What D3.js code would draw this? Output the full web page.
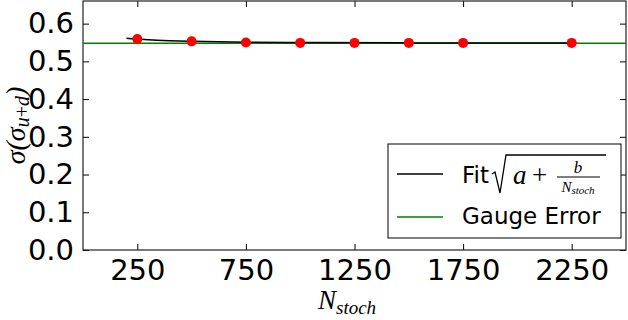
<!DOCTYPE html>
<html>
<head>
<meta charset="utf-8">
<script src="https://cdn.jsdelivr.net/npm/d3@7"></script>
<style>
  body { margin: 0; background: #fff; }
  svg { display: block; }
</style>
</head>
<body>
<div id="chart"></div>
<script>
// Data
const nStoch = [250, 500, 750, 1000, 1250, 1500, 1750, 2250];
const sigmaValues = [0.559, 0.553, 0.550, 0.549, 0.549, 0.549, 0.549, 0.549];
const fitN = [200, 250, 300, 400, 500, 750, 1000, 1500, 2250];
const fitValues = [0.561, 0.559, 0.557, 0.5545, 0.553, 0.5508, 0.5499, 0.549, 0.5485];
const gaugeError = 0.548;
const xTicks = [250, 750, 1250, 1750, 2250];
const yTicks = [0.0, 0.1, 0.2, 0.3, 0.4, 0.5, 0.6];

const width = 628, height = 320;
const margin = { top: 1, right: 2, bottom: 70, left: 83 };

const svg = d3.select("#chart").append("svg")
  .attr("width", width)
  .attr("height", height);

const x = d3.scaleLinear().domain([0, 2500]).range([margin.left, width - margin.right]);
const y = d3.scaleLinear().domain([0, 0.66]).range([height - margin.bottom, margin.top]);

const tickFont = "DejaVu Sans, sans-serif";
const mathFont = "Liberation Serif, DejaVu Serif, serif";

// Axes with inward ticks on all four sides
const axisBottom = svg.append("g")
  .attr("transform", `translate(0,${y(0)})`)
  .call(d3.axisBottom(x).tickValues(xTicks).tickSizeInner(-6).tickSizeOuter(0).tickPadding(9).tickFormat(d3.format("d")));
const axisTop = svg.append("g")
  .attr("transform", `translate(0,${y(0.66)})`)
  .call(d3.axisTop(x).tickValues(xTicks).tickSizeInner(-6).tickSizeOuter(0).tickFormat(""));
const axisLeft = svg.append("g")
  .attr("transform", `translate(${x(0)},0)`)
  .call(d3.axisLeft(y).tickValues(yTicks).tickSizeInner(-6).tickSizeOuter(0).tickPadding(9).tickFormat(d3.format(".1f")));
const axisRight = svg.append("g")
  .attr("transform", `translate(${x(2500)},0)`)
  .call(d3.axisRight(y).tickValues(yTicks).tickSizeInner(-6).tickSizeOuter(0).tickFormat(""));

[axisBottom, axisTop, axisLeft, axisRight].forEach(g => {
  g.select(".domain").remove();
  g.selectAll(".tick line").attr("stroke", "#000").attr("stroke-width", 1);
  g.selectAll(".tick text")
    .attr("fill", "#000")
    .style("font-family", tickFont)
    .style("font-size", "29px");
});

// Frame
svg.append("rect")
  .attr("x", x(0)).attr("y", y(0.66))
  .attr("width", x(2500) - x(0)).attr("height", y(0) - y(0.66))
  .attr("fill", "none").attr("stroke", "#222").attr("stroke-width", 1.2);

// Gauge error line
svg.append("line")
  .attr("x1", x(0)).attr("x2", x(2500))
  .attr("y1", y(gaugeError)).attr("y2", y(gaugeError))
  .attr("stroke", "#008000").attr("stroke-width", 1.5);

// Fit curve
const line = d3.line().x((d, i) => x(fitN[i])).y(d => y(d)).curve(d3.curveMonotoneX);
svg.append("path")
  .datum(fitValues)
  .attr("d", line)
  .attr("fill", "none")
  .attr("stroke", "#000")
  .attr("stroke-width", 1.5);

// Data points
svg.selectAll(".dot")
  .data(nStoch)
  .enter()
  .append("circle")
  .attr("class", "dot")
  .attr("cx", d => x(d))
  .attr("cy", (d, i) => y(sigmaValues[i]))
  .attr("r", 5)
  .attr("fill", "#ff0000");

// Axis labels
svg.append("text")
  .attr("x", 318)
  .attr("y", 309)
  .style("font-family", mathFont)
  .style("font-style", "italic")
  .style("font-size", "27px")
  .html('N<tspan font-size="19" dy="5">stoch</tspan>');

svg.append("text")
  .attr("transform", `translate(25,${(y(0) + y(0.66)) / 2}) rotate(-90)`)
  .attr("text-anchor", "middle")
  .style("font-family", mathFont)
  .style("font-style", "italic")
  .style("font-size", "28px")
  .html('σ(σ<tspan font-size="20" dy="4">u</tspan><tspan font-size="20" font-style="normal">+</tspan><tspan font-size="20">d</tspan><tspan dy="-4">)</tspan>');

// Legend
const legend = svg.append("g").attr("transform", "translate(388,144)");
legend.append("rect")
  .attr("width", 233).attr("height", 94)
  .attr("fill", "#fff").attr("stroke", "#000").attr("stroke-width", 1);

legend.append("line")
  .attr("x1", 9).attr("x2", 55).attr("y1", 30).attr("y2", 30)
  .attr("stroke", "#000").attr("stroke-width", 1.5);
legend.append("line")
  .attr("x1", 9).attr("x2", 55).attr("y1", 73).attr("y2", 73)
  .attr("stroke", "#008000").attr("stroke-width", 1.5);

legend.append("text")
  .attr("x", 74).attr("y", 39)
  .style("font-family", tickFont).style("font-size", "23px")
  .text("Fit");
// sqrt(a + b / N_stoch)
legend.append("path")
  .attr("d", "M104,30 L107,28 L112,49 L118,11 L218,11")
  .attr("fill", "none").attr("stroke", "#000").attr("stroke-width", 1.3);
legend.append("text")
  .attr("x", 125).attr("y", 40)
  .style("font-family", mathFont).style("font-style", "italic").style("font-size", "27px")
  .text("a");
legend.append("text")
  .attr("x", 144).attr("y", 40)
  .style("font-family", mathFont).style("font-size", "27px")
  .text("+");
legend.append("line")
  .attr("x1", 169).attr("x2", 212).attr("y1", 33).attr("y2", 33)
  .attr("stroke", "#000").attr("stroke-width", 1);
legend.append("text")
  .attr("x", 190).attr("y", 29).attr("text-anchor", "middle")
  .style("font-family", mathFont).style("font-style", "italic").style("font-size", "17px")
  .text("b");
legend.append("text")
  .attr("x", 190).attr("y", 48).attr("text-anchor", "middle")
  .style("font-family", mathFont).style("font-style", "italic").style("font-size", "15px")
  .html('N<tspan font-size="11" dy="2">stoch</tspan>');

legend.append("text")
  .attr("x", 74).attr("y", 80)
  .style("font-family", tickFont).style("font-size", "23px")
  .text("Gauge Error");
</script>
</body>
</html>
